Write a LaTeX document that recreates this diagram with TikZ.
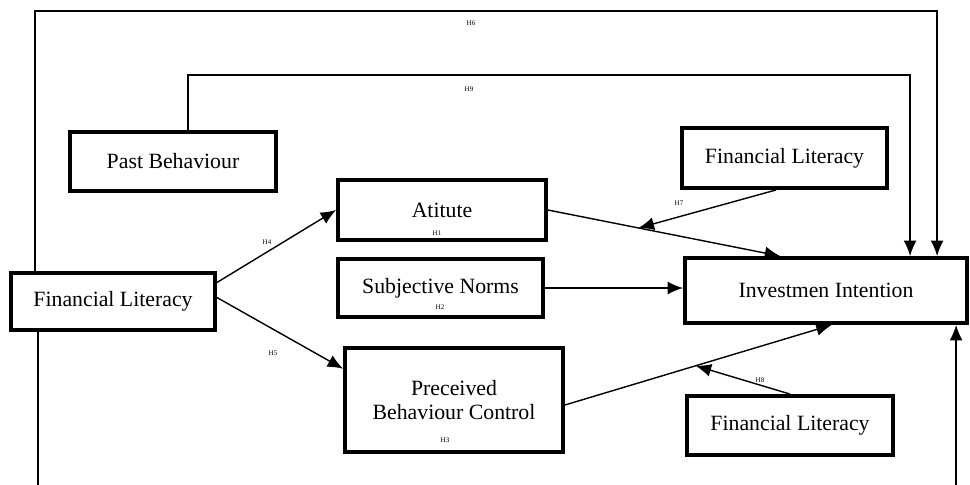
\documentclass[tikz,border=0pt]{standalone}
\usepackage{fontspec}
\setmainfont{Liberation Serif}
\usepackage{tikz}
\usetikzlibrary{arrows.meta,calc}

\begin{document}
\begin{tikzpicture}[x=0.02cm,y=-0.02cm,every node/.style={font=\fontsize{12.4}{14}\selectfont},
  box/.style={draw,line width=2.2pt,align=center,inner sep=0pt},
  hyp/.style={font=\fontsize{4}{5}\selectfont,inner sep=0pt},
  arr/.style={line width=0.8pt,-{Latex[length=3.1mm,width=2.6mm]}}]
\useasboundingbox (0,0) rectangle (970,484);
\clip (0,0) rectangle (970,484);
\node[box,minimum width=4.12cm,minimum height=1.18cm] (past) at (173,161.5) {Past Behaviour};
\node[box,minimum width=4.08cm,minimum height=1.14cm] (litL) at (113,301.5) {Financial Literacy};
\node[box,minimum width=4.1cm,minimum height=1.2cm] (litT) at (784.5,158) {Financial Literacy};
\node[box,minimum width=4.16cm,minimum height=1.2cm] (att) at (442,210) {Atitute};
\node[box,minimum width=4.1cm,minimum height=1.16cm] (sn) at (440.5,288) {Subjective Norms};
\node[box,minimum width=5.64cm,minimum height=1.3cm] (inv) at (826,290.5) {Investmen Intention};
\node[box,minimum width=4.36cm,minimum height=2.08cm] (pbc) at (454,400) {Preceived\\Behaviour Control};
\node[box,minimum width=4.12cm,minimum height=1.18cm] (litB) at (790,425.5) {Financial Literacy};
% end points on the boxes
\coordinate (litL1) at ($(litL.east)+(0,-19)$);
\coordinate (litL2) at ($(litL.east)+(0,-4)$);
\coordinate (pbcL) at ($(pbc.north west)!0.21!(pbc.south west)$);
\coordinate (invA) at ($(inv.north west)!0.34!(inv.north east)$);
\coordinate (midA) at ($(att.east)!0.39!(invA)$);
\coordinate (litT1) at ($(litT.south west)!0.46!(litT.south east)$);
\coordinate (pbcR) at ($(pbc.east)+(0,5)$);
\coordinate (invB) at ($(inv.south west)!0.52!(inv.south east)$);
\coordinate (midB) at ($(pbcR)!0.49!(invB)$);
\coordinate (pastT) at ($(past.north)+(15,0)$);
\coordinate (inv9) at ($(inv.north west)+(227,0)$);
\coordinate (litLT) at ($(litL.north west)+(26,0)$);
\coordinate (inv6) at ($(inv.north west)+(254,0)$);
\coordinate (litLB) at ($(litL.south west)+(29,0)$);
\coordinate (inv10) at ($(inv.south west)+(273,0)$);
\draw[arr] (litL1) -- (att.west);
\draw[arr] (litL2) -- (pbcL);
\draw[arr] (att.east) -- (invA);
\draw[arr] (litT1) -- (midA);
\draw[arr] (sn.east) -- (sn.east -| inv.west);
\draw[arr] (pbcR) -- (invB);
\draw[arr] (litB.north) -- (midB);
\draw[arr] (pastT) |- ($(inv9)+(0,-181)$) -- (inv9);
\draw[arr] (litLT) |- ($(inv6)+(0,-245)$) -- (inv6);
\draw[arr] (litLB) |- ($(inv10)+(0,175)$) -- (inv10);
% hypothesis labels
\node[hyp] (h1) at (437,233) {H1};
\node[hyp] (h2) at (440,307) {H2};
\node[hyp] (h3) at (445,440) {H3};
\node[hyp] (h4) at (267,242) {H4};
\node[hyp] (h5) at (273,353) {H5};
\node[hyp] (h6) at (471,23) {H6};
\node[hyp] (h7) at (679,203) {H7};
\node[hyp] (h8) at (760,380) {H8};
\node[hyp] (h9) at (469,89) {H9};
\end{tikzpicture}
\end{document}
